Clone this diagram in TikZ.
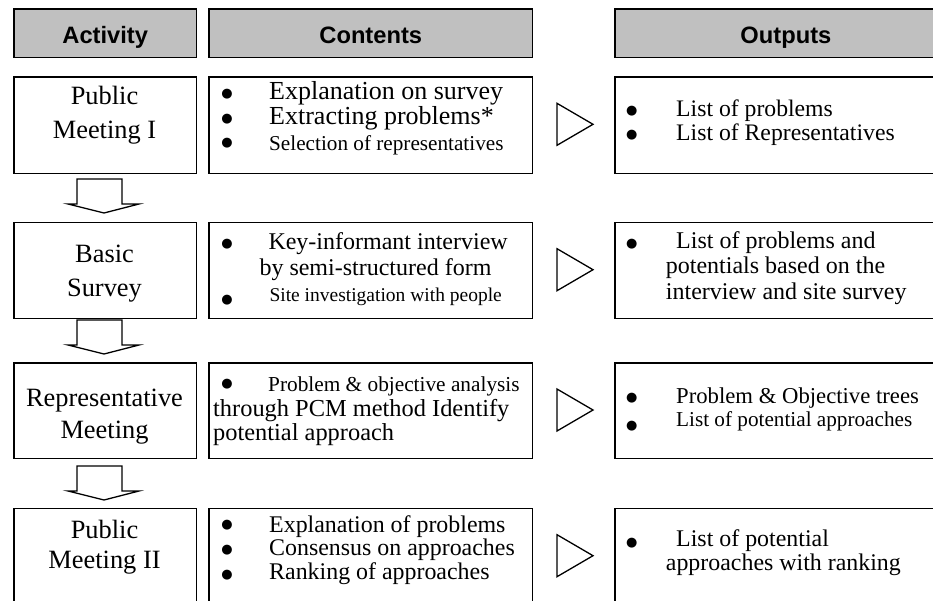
\documentclass[tikz,border=0pt]{standalone}
\usepackage{fontspec}
\setmainfont{Liberation Serif}
\setsansfont{Liberation Sans}
\newfontfamily\dotfont{DejaVu Sans}
\definecolor{hdrgray}{RGB}{192,192,192}
\begin{document}
\begin{tikzpicture}[x=1pt,y=-1pt,
  frame/.style={draw=black, line width=1.5pt, inner sep=0pt, anchor=north west},
  hdr/.style={frame, fill=hdrgray, text height=20pt, text depth=0pt,
              font=\sffamily\bfseries\fontsize{23.7}{28}\selectfont},
  ln/.style={anchor=base west, inner sep=0pt, font=\fontsize{#1}{#1}\selectfont},
  ctr/.style={anchor=base, inner sep=0pt, font=\fontsize{#1}{#1}\selectfont},
  bul/.style={anchor=base, inner sep=0pt, yshift=-6.5pt, font=\dotfont\fontsize{13}{13}\selectfont},
  downarrow/.pic={\draw[line width=1.3pt, line join=miter]
      (-27,0) -- (-27,25) -- (-36,25) -- (0,34) -- (35,25) -- (18,25) -- (18,0) -- cycle;},
  outtri/.pic={\draw[line width=1.3pt, line join=miter]
      (-18,-21) -- (18,0) -- (-18,21) -- cycle;}
]
\useasboundingbox (0,0) rectangle (933,600);
\clip (0,0) rectangle (933,600);

% column headings
\node[hdr, minimum width=182.4pt, minimum height=48.5pt] (hact) at (13.3,8) {Activity};
\node[hdr, minimum width=323.4pt, minimum height=48.5pt] (hcon) at (208.3,8) {Contents};
\node[hdr, minimum width=341.7pt, minimum height=48.5pt] (hout) at (614.3,8) {Outputs};

% frames of the four rows
\foreach \r/\top/\h in {1/76/96.7, 2/221.7/96, 3/362.3/95.4, 4/507.7/96.3}{
  \node[frame, minimum width=182.4pt, minimum height=\h pt] (a\r) at (13.3,\top) {};
  \node[frame, minimum width=323.4pt, minimum height=\h pt] (c\r) at (208.3,\top) {};
  \node[frame, minimum width=341.7pt, minimum height=\h pt] (o\r) at (614.3,\top) {};
}

% block arrows between the activities
\pic at (104,179) {downarrow};
\pic at (104,320) {downarrow};
\pic at (104,466) {downarrow};

% arrow heads from contents to outputs
\pic at (575,124.3) {outtri};
\pic at (575,269.7) {outtri};
\pic at (575,410) {outtri};
\pic at (575,555.7) {outtri};

% activity names
\node[ctr=26.4] (t1a) at (104.5,104) {Public};
\node[ctr=26.4] (t1b) at (104.5,138) {Meeting I};
\node[ctr=26.4] (t2a) at (104.5,262.5) {Basic};
\node[ctr=26.4] (t2b) at (104.5,296.5) {Survey};
\node[ctr=26.4] (t3a) at (104.5,406.5) {Representative};
\node[ctr=26.4] (t3b) at (104.5,438.5) {Meeting};
\node[ctr=26.4] (t4a) at (104.5,538.5) {Public};
\node[ctr=26.4] (t4b) at (104.5,568.5) {Meeting II};

% contents, row 1 (bullets placed by their centres)
\node[bul] (b11) at (227,90.5) {●};
\node[bul] (b12) at (227,115.5) {●};
\node[bul] (b13) at (227,140) {●};
\node[ln=26] (c11) at (269,99) {Explanation on survey};
\node[ln=26] (c12) at (269,124.5) {Extracting problems*};
\node[ln=21.2] (c13) at (269,150) {Selection of representatives};
% contents, row 2
\node[bul] (b21) at (227,240.7) {●};
\node[bul] (b22) at (227,296.7) {●};
\node[ln=24] (c21) at (268.3,249) {Key-informant interview};
\node[ln=24] (c22) at (259.3,275) {by semi-structured form};
\node[ln=19.5] (c23) at (269.3,301) {Site investigation with people};
% contents, row 3
\node[bul] (b31) at (227,380.7) {●};
\node[ln=21.3] (c31) at (268,391) {Problem \& objective analysis};
\node[ln=24.4] (c32) at (213,416) {through PCM method Identify};
\node[ln=24.4] (c33) at (213,440) {potential approach};
% contents, row 4
\node[bul] (b41) at (227,521.7) {●};
\node[bul] (b42) at (227,546.7) {●};
\node[bul] (b43) at (227,571.7) {●};
\node[ln=23.9] (c41) at (269,532) {Explanation of problems};
\node[ln=23.9] (c42) at (269,555.5) {Consensus on approaches};
\node[ln=23.9] (c43) at (269,579.5) {Ranking of approaches};

% outputs, row 1
\node[bul] (p11) at (631.7,108.3) {●};
\node[bul] (p12) at (631.7,131.7) {●};
\node[ln=23.7] (o11) at (676,116.5) {List of problems};
\node[ln=23.7] (o12) at (676,140) {List of Representatives};
% outputs, row 2
\node[bul] (p21) at (631.7,240.7) {●};
\node[ln=24] (o21) at (676,248) {List of problems and};
\node[ln=24] (o22) at (665.7,273) {potentials based on the};
\node[ln=24] (o23) at (665.7,299) {interview and site survey};
% outputs, row 3
\node[bul] (p31) at (631.7,395) {●};
\node[bul] (p32) at (631.7,422.7) {●};
\node[ln=22.7] (o31) at (676,403.5) {Problem \& Objective trees};
\node[ln=21.2] (o32) at (676,426) {List of potential approaches};
% outputs, row 4
\node[bul] (p41) at (631.7,540) {●};
\node[ln=23.9] (o41) at (676,546.5) {List of potential};
\node[ln=23.9] (o42) at (665.7,570) {approaches with ranking};
\end{tikzpicture}
\end{document}
